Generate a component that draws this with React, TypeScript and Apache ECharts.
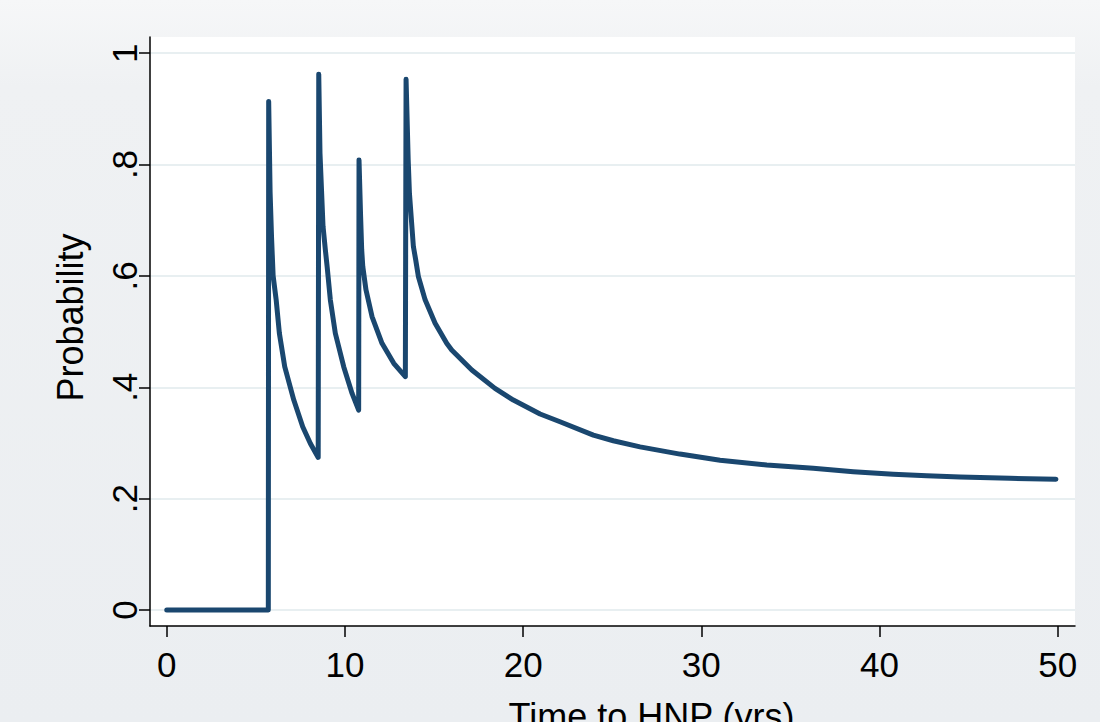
import React, { useEffect, useRef } from "react";
import * as echarts from "echarts";

const xTicks = [0, 10, 20, 30, 40, 50];
const yTicks = [0, 0.2, 0.4, 0.6, 0.8, 1];
const yTickLabels = ["0", ".2", ".4", ".6", ".8", "1"];

const timeYrs = [
  0, 5.7, 5.72, 5.8, 5.88, 5.97, 6.14, 6.32, 6.62, 7.13, 7.63, 8.06, 8.5,
  8.53, 8.6, 8.77, 8.9, 9.0, 9.18, 9.46, 9.93, 10.4, 10.77,
  10.79, 10.88, 10.94, 11.0, 11.18, 11.52, 12.08, 12.74, 13.39,
  13.43, 13.55, 13.62, 13.84, 13.97, 14.12, 14.5, 15.06, 15.71, 15.99, 17.12, 18.42, 19.45,
  20.95, 22.07, 23.94, 25.06, 26.56, 28.8, 31.05, 33.67, 36.28, 38.53, 40.77, 42.65, 44.52, 47.32, 49.9,
];
const probability = [
  0, 0, 0.913, 0.75, 0.67, 0.6, 0.557, 0.497, 0.437, 0.377, 0.329, 0.299, 0.274,
  0.962, 0.82, 0.689, 0.647, 0.617, 0.557, 0.497, 0.437, 0.389, 0.359,
  0.808, 0.706, 0.647, 0.617, 0.575, 0.527, 0.479, 0.443, 0.419,
  0.953, 0.808, 0.748, 0.653, 0.629, 0.599, 0.557, 0.515, 0.479, 0.467, 0.431, 0.398, 0.377,
  0.352, 0.338, 0.314, 0.304, 0.293, 0.28, 0.269, 0.2605, 0.2545, 0.2485, 0.244, 0.241, 0.239, 0.2365, 0.235,
];

const FONT = "'Liberation Sans', Arial, Helvetica, sans-serif";

export default function App() {
  const ref = useRef<HTMLDivElement>(null);
  useEffect(() => {
    const chart = echarts.init(ref.current!, null, { renderer: "svg" });
    chart.setOption({
      animation: false,
      backgroundColor: {
        type: "linear",
        x: 0,
        y: 0,
        x2: 0,
        y2: 1,
        colorStops: [
          { offset: 0, color: "#f6f7f8" },
          { offset: 0.12, color: "#eff1f3" },
          { offset: 1, color: "#ebeef1" },
        ],
      },
      grid: {
        show: true,
        left: 150,
        right: 25,
        top: 37,
        bottom: 96,
        backgroundColor: "#ffffff",
        borderWidth: 0,
        containLabel: false,
        outerBoundsMode: "none",
      },
      xAxis: {
        type: "value",
        min: -0.94,
        max: 50.97,
        name: "Time to HNP (yrs)",
        nameLocation: "middle",
        nameGap: 72,
        nameTextStyle: {
          fontSize: 36,
          fontFamily: FONT,
          color: "#000",
          padding: [0, 0, 0, 78],
        },
        axisLine: { show: true, onZero: false, lineStyle: { color: "#000", width: 1.5 } },
        axisTick: {
          show: true,
          length: 11,
          customValues: xTicks,
          lineStyle: { color: "#000", width: 1.5 },
        },
        axisLabel: {
          customValues: xTicks,
          fontSize: 35,
          fontFamily: FONT,
          color: "#000",
          margin: 21,
        },
        splitLine: { show: false },
      },
      yAxis: {
        type: "value",
        min: -0.0287,
        max: 1.029,
        name: "Probability",
        nameLocation: "middle",
        nameGap: 62,
        nameTextStyle: {
          fontSize: 36,
          fontFamily: FONT,
          color: "#000",
          padding: [0, 0, 0, 28],
        },
        axisLine: { show: true, onZero: false, lineStyle: { color: "#000", width: 1.5 } },
        axisTick: {
          show: true,
          length: 11,
          customValues: yTicks,
          lineStyle: { color: "#000", width: 1.5 },
        },
        axisLabel: {
          customValues: yTicks,
          rotate: 90,
          fontSize: 35,
          fontFamily: FONT,
          color: "#000",
          margin: 8,
          formatter: (v: number) => {
            const i = yTicks.findIndex((t) => Math.abs(t - v) < 1e-6);
            return i >= 0 ? yTickLabels[i] : "";
          },
        },
        splitLine: { show: true, lineStyle: { color: "#e8eff1", width: 2 } },
      },
      series: [
        {
          type: "line",
          data: timeYrs.map((t, i) => [t, probability[i]]),
          showSymbol: false,
          symbol: "none",
          z: 3,
          lineStyle: { color: "#1a476f", width: 5, cap: "round", join: "round" },
        },
      ],
    });
    return () => chart.dispose();
  }, []);
  return (
    <div
      ref={ref}
      style={{ position: "fixed", left: 0, top: 0, width: 1100, height: 722 }}
    />
  );
}
